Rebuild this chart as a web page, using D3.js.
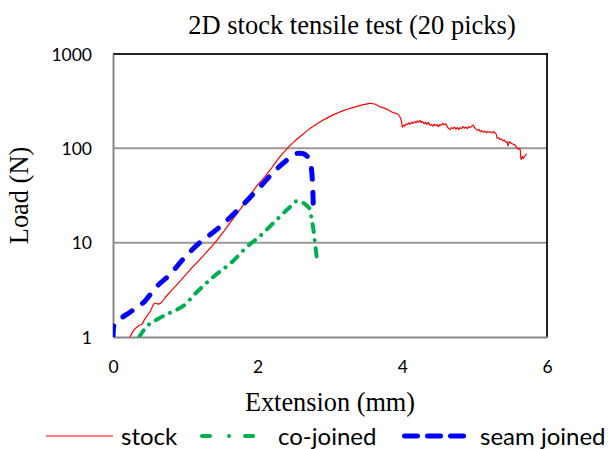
<!DOCTYPE html>
<html>
<head>
<meta charset="utf-8">
<script src="https://cdn.jsdelivr.net/npm/d3@7"></script>
<style>
  html, body { margin: 0; padding: 0; background: #fff; }
  svg { display: block; }
</style>
</head>
<body>
<div id="chart"></div>
<script>
// ---- data ----
const title = "2D stock tensile test (20 picks)";
const xLabel = "Extension (mm)";
const yLabel = "Load (N)";
const xTicks = [0, 2, 4, 6];
const yTicks = [1, 10, 100, 1000];
const seriesNames = ["stock", "co-joined", "seam joined"];

const stock = [
  [0.235,1.0],[0.28,1.16],[0.35,1.31],[0.40,1.37],[0.44,1.55],[0.51,1.84],[0.58,2.29],
  [0.62,2.23],[0.66,2.29],[0.74,2.72],[0.9,3.7],[1.1,5.5],[1.25,7.3],[1.41,10],
  [1.6,15.5],[1.8,25],[2.0,41],[2.1,50],[2.2,63],[2.3,80],[2.41,100],[2.5,117],[2.6,136],
  [2.7,157],[2.8,178],[2.9,198],[3.0,218],[3.1,236],[3.2,254],[3.3,268],[3.4,282],
  [3.48,292],[3.55,299],[3.6,297],[3.64,290],[3.68,278],[3.74,268],[3.79,259],[3.87,240],
  [3.94,229],[3.97,213],[3.99,190],[4.00,168],[4.02,176],[4.03,172],[4.05,182],
  [4.07,178],[4.09,186],[4.11,180],[4.13,190],[4.15,184],[4.17,192],[4.19,186],
  [4.21,196],[4.23,190],[4.25,198],[4.26,188],[4.28,192],[4.30,182],[4.32,188],
  [4.34,180],[4.36,188],[4.38,176],[4.40,178],[4.42,172],[4.44,180],[4.46,174],
  [4.48,178],[4.50,170],[4.52,180],[4.54,176],[4.56,184],[4.58,178],[4.60,182],
  [4.62,170],[4.64,162],[4.66,158],[4.68,166],[4.70,162],[4.72,168],[4.74,160],
  [4.76,166],[4.78,158],[4.80,166],[4.82,162],[4.84,170],[4.86,164],[4.88,168],
  [4.90,162],[4.92,170],[4.94,166],[4.96,172],[4.98,176],[5.00,166],[5.02,160],
  [5.04,156],[5.06,158],[5.08,150],[5.10,154],[5.12,148],[5.14,152],[5.16,146],
  [5.18,150],[5.20,148],[5.22,150],[5.24,146],[5.26,150],[5.28,146],[5.30,140],
  [5.31,128],[5.33,130],[5.35,124],[5.37,126],[5.39,120],[5.41,122],[5.43,116],
  [5.45,118],[5.46,106],[5.48,118],[5.50,114],[5.52,112],[5.54,110],[5.56,108],
  [5.58,102],[5.60,98],[5.62,100],[5.63,96],[5.64,76],[5.66,82],[5.67,78],
  [5.70,84],[5.72,87]
];

const coJoined = [
  [0.36,1.0],[0.47,1.3],[0.62,1.55],[0.81,1.84],[0.97,2.13],[1.16,3.0],[1.38,4.3],
  [1.66,6.4],[1.85,9.0],[2.03,11.7],[2.27,17.7],[2.45,24],[2.54,27.5],[2.61,26.8],
  [2.67,25],[2.72,22.6],[2.75,17],[2.77,13.9],[2.80,9],[2.82,6.7],[2.84,6.0]
];

const seamJoined = [
  [0.0,1.0],[0.01,1.3],[0.07,1.48],[0.24,1.84],[0.44,2.4],[0.6,3.4],[0.79,4.6],
  [0.97,6.7],[1.2,10],[1.44,13.9],[1.71,21.6],[2.0,36.7],[2.27,61],[2.45,80],
  [2.52,87],[2.56,88.7],[2.62,88],[2.67,84],[2.72,75],[2.74,64],[2.76,40],[2.77,23.7]
];

// ---- layout ----
const W = 610, H = 449;
const plot = { left: 113, right: 547, top: 54, bottom: 337 };

const svg = d3.select("#chart").append("svg")
  .attr("width", W).attr("height", H);

const x = d3.scaleLinear().domain([0, 6]).range([plot.left, plot.right]);
const y = d3.scaleLog().domain([1, 1000]).range([plot.bottom, plot.top]);

const sansFont = "Lato, 'Open Sans', sans-serif";
const serifFont = "'Liberation Serif', 'Times New Roman', serif";

svg.append("defs").append("clipPath").attr("id", "clip")
  .append("rect")
  .attr("x", plot.left).attr("y", plot.top - 2)
  .attr("width", plot.right - plot.left).attr("height", plot.bottom - plot.top + 2);

// gridlines
svg.append("g")
  .selectAll("line")
  .data([10, 100])
  .join("line")
  .attr("x1", plot.left).attr("x2", plot.right)
  .attr("y1", d => y(d)).attr("y2", d => y(d))
  .attr("stroke", "#999").attr("stroke-width", 2);

// plot borders
svg.append("line").attr("x1", plot.left).attr("x2", plot.right + 1)
  .attr("y1", plot.top).attr("y2", plot.top)
  .attr("stroke", "#222").attr("stroke-width", 2);
svg.append("line").attr("x1", plot.right).attr("x2", plot.right)
  .attr("y1", plot.top).attr("y2", plot.bottom)
  .attr("stroke", "#222").attr("stroke-width", 2);

// axes
const xAxis = d3.axisBottom(x).tickValues(xTicks).tickSize(0).tickPadding(0)
  .tickFormat(d3.format("d"));
const gx = svg.append("g").attr("transform", `translate(0,${plot.bottom})`).call(xAxis);
gx.select(".domain").attr("stroke", "#888").attr("stroke-width", 2);
gx.selectAll("text").attr("dy", null).attr("y", 36)
  .attr("font-family", sansFont).attr("font-size", 17.5).attr("fill", "#000");

const yAxis = d3.axisLeft(y).tickValues(yTicks).tickSize(0).tickPadding(0)
  .tickFormat(d3.format("d"));
const gy = svg.append("g").attr("transform", `translate(${plot.left},0)`).call(yAxis);
gy.select(".domain").attr("stroke", "#888").attr("stroke-width", 2);
gy.selectAll("text").attr("x", -21).attr("dy", "0.36em")
  .attr("font-family", sansFont).attr("font-size", 17.5).attr("fill", "#000");

// series
const lineSmooth = d3.line().x(d => x(d[0])).y(d => y(d[1])).curve(d3.curveMonotoneX);
const g = svg.append("g").attr("clip-path", "url(#clip)");

g.append("path").datum(stock)
  .attr("d", lineSmooth).attr("fill", "none")
  .attr("stroke", "#ff0000").attr("stroke-width", 1.2);

g.append("path").datum(coJoined)
  .attr("d", lineSmooth).attr("fill", "none")
  .attr("stroke", "#00b050").attr("stroke-width", 4)
  .attr("stroke-linecap", "round")
  .attr("stroke-dasharray", "8,8,0.1,8");

g.append("path").datum(seamJoined)
  .attr("d", lineSmooth).attr("fill", "none")
  .attr("stroke", "#0000ff").attr("stroke-width", 5)
  .attr("stroke-linecap", "round")
  .attr("stroke-dasharray", "11,13");

// titles
svg.append("text").attr("x", 352).attr("y", 34)
  .attr("text-anchor", "middle")
  .attr("font-family", serifFont).attr("font-size", 26.5)
  .text(title);

svg.append("text").attr("x", 330).attr("y", 411)
  .attr("text-anchor", "middle")
  .attr("font-family", serifFont).attr("font-size", 26.3)
  .text(xLabel);

svg.append("text")
  .attr("transform", `translate(28,${(plot.top + plot.bottom) / 2}) rotate(-90)`)
  .attr("text-anchor", "middle")
  .attr("font-family", serifFont).attr("font-size", 26.4)
  .text(yLabel);

// legend
const legendItems = [
  { name: seriesNames[0], x1: 46, x2: 113, tx: 121, color: "#ff0000", w: 1.2, dash: null, cap: "butt" },
  { name: seriesNames[1], x1: 202, x2: 256, tx: 278, color: "#00b050", w: 4, dash: "8,19,0.1,16", cap: "round" },
  { name: seriesNames[2], x1: 404.5, x2: 473, tx: 480, color: "#0000ff", w: 5, dash: "13,10", cap: "round" }
];
const lg = svg.append("g");
legendItems.forEach(it => {
  lg.append("line").attr("x1", it.x1).attr("x2", it.x2)
    .attr("y1", 436).attr("y2", 436)
    .attr("stroke", it.color).attr("stroke-width", it.w)
    .attr("stroke-linecap", it.cap)
    .attr("stroke-dasharray", it.dash);
  lg.append("text").attr("x", it.tx).attr("y", 445)
    .attr("font-family", sansFont).attr("font-size", 24)
    .text(it.name);
});
</script>
</body>
</html>
